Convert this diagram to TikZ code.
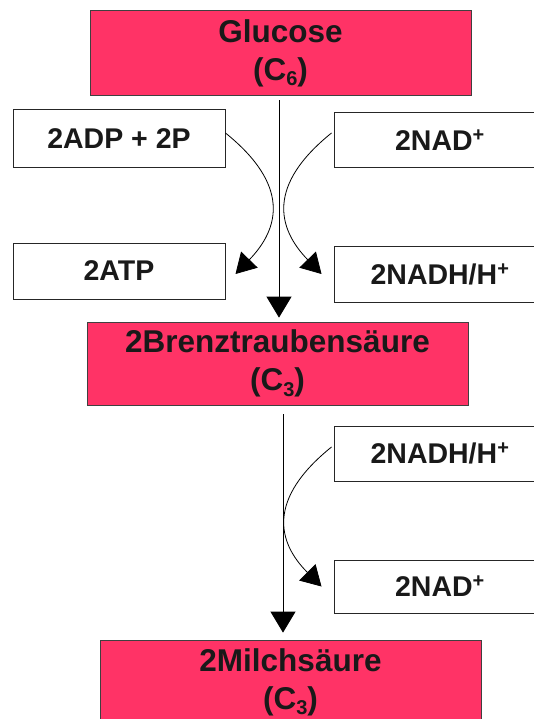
\documentclass[tikz,border=0pt]{standalone}
\usepackage{fontspec}
\setmainfont{Liberation Sans}
\usetikzlibrary{arrows.meta}
\definecolor{saeure}{RGB}{255,51,102}
\newcommand{\ind}[1]{\raisebox{-5.5pt}{\fontsize{20}{20}\selectfont#1}}
\begin{document}
\begin{tikzpicture}[x=1pt,y=-1pt,
stoff/.style={draw=black!75,fill=saeure,line width=0.8pt,minimum width=381pt,minimum height=84pt,inner sep=0pt,align=center,text=black!90,font=\bfseries\fontsize{31.5}{38}\selectfont},
ko/.style={draw=black!85,fill=white,line width=1pt,minimum width=212pt,inner sep=0pt,text=black!90,font=\bfseries\fontsize{28.5}{34}\selectfont},
fluss/.style={-{Triangle[length=21pt,width=25pt]},line width=0.9pt},
bogen/.style={-{Triangle[length=20pt,width=23pt]},line width=0.8pt}]
\useasboundingbox (0,0) rectangle (534,719);
\node[stoff,minimum height=85pt](glucose)at(280.5,53){Glucose\\(C\ind{6})};
\node[ko,minimum height=58pt](adp)at(119,139){2ADP + 2P};
\node[ko,minimum height=55pt](nadtop)at(440,140.5){2NAD\textsuperscript{+}};
\node[ko,minimum height=56pt](atp)at(119,271){2ATP};
\node[ko,minimum height=56pt](nadhtop)at(440,274){2NADH/H\textsuperscript{+}};
\node[stoff,minimum height=83pt](brenz)at(277.5,363.5){2Brenztraubensäure\\(C\ind{3})};
\node[ko,minimum height=55pt](nadhlow)at(440,453.5){2NADH/H\textsuperscript{+}};
\node[ko,minimum height=53pt](nadlow)at(440,586.5){2NAD\textsuperscript{+}};
\node[stoff,minimum height=84pt](milch)at(290.5,682){2Milchsäure\\(C\ind{3})};
\draw[fluss]([xshift=-1.5pt,yshift=-4.5pt]glucose.south)--([xshift=1.5pt,yshift=4pt]brenz.north);
\draw[fluss]([xshift=5.5pt,yshift=-9pt]brenz.south)--([xshift=-7.5pt,yshift=7pt]milch.north);
\draw[bogen]([yshift=6pt]adp.east)..controls(290,185)and(280,228)..([xshift=10pt,yshift=-3pt]atp.east);
\draw[bogen]([xshift=-2pt,yshift=7.5pt]nadtop.west)..controls(267,185)and(277,228)..([xshift=-12pt]nadhtop.west);
\draw[bogen]([xshift=-2pt,yshift=6.5pt]nadhlow.west)..controls(267,499)and(277,542)..([xshift=-12pt]nadlow.west);
\end{tikzpicture}
\end{document}
